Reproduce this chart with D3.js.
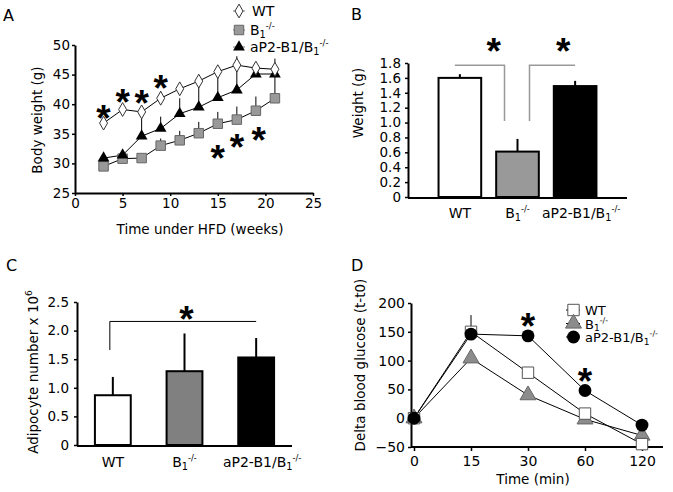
<!DOCTYPE html>
<html>
<head>
<meta charset="utf-8">
<script src="https://cdn.jsdelivr.net/npm/d3@7"></script>
<style>
	body { margin: 0; background: #fff; }
	svg { display: block; }
	text { font-family: "DejaVu Sans", Arial, sans-serif; fill: #000; }
</style>
</head>
<body>
<svg id="chart" width="673" height="492"></svg>
<script>
// ---- panel A: body weight over time
const weeks = [3, 5, 7, 9, 11, 13, 15, 17, 19, 21];
const wtBody = [36.8, 39.1, 38.7, 41.0, 42.6, 43.9, 45.5, 46.6, 46.1, 45.9];
const wtBodyErr = [0.4, 0.5, 0.6, 1.2, 0.9, 0.8, 0.9, 1.5, 0.5, 0.6];
const b1Body = [29.5, 30.8, 30.9, 33.0, 33.9, 35.1, 36.7, 37.4, 38.9, 41.0];
const b1BodyErr = [0.3, 0.4, 0.5, 1.2, 1.6, 1.9, 2.0, 2.2, 2.4, 4.6];
const aP2Body = [30.9, 31.4, 34.6, 35.9, 38.4, 39.5, 41.1, 42.4, 45.1, 45.1];
const aP2BodyErr = [0.3, 0.5, 3.7, 2.0, 2.6, 3.7, 4.1, 4.4, 0.5, 2.6];
const aXTicks = [0, 5, 10, 15, 20, 25];
const aYTicks = [25, 30, 35, 40, 45, 50];
const aStarWeeks = [3, 5, 7, 9, 15, 17, 19.3];
const aStarValues = [38.9, 41.6, 41.5, 44.0, 32.3, 34.0, 35.2];

// ---- panels B and C: bars per genotype
const groups = ['WT', 'B1', 'aP2'];
const groupLabels = [['WT', '', ''], ['B', '1', '-/-'], ['aP2-B1/B', '1', '-/-']];
const fatWeight = [1.60, 0.61, 1.49];
const fatWeightErr = [0.05, 0.17, 0.07];
const bYTicks = [0, 0.2, 0.4, 0.6, 0.8, 1.0, 1.2, 1.4, 1.6, 1.8];
const adipocytes = [0.87, 1.29, 1.53];
const adipocytesErr = [0.32, 0.66, 0.34];
const cYTicks = [0, 0.5, 1.0, 1.5, 2.0, 2.5];

// ---- panel D: glucose tolerance
const times = ['0', '15', '30', '60', '120'];
const wtGlucose = [0, 150, 79, 8, -45];
const wtGlucoseErr = [0, 29, 3, 3, 0];
const b1Glucose = [0, 104, 40, -2, -30];
const b1GlucoseErr = [0, 14, 0, 0, 0];
const aP2Glucose = [0, 146, 143, 48, -12];
const aP2GlucoseErr = [0, 4, 8, 3, 0];
const dYTicks = [-50, 0, 50, 100, 150, 200];
const dStarTimes = ['30', '60'];
const dStarValues = [174, 78];

const svg = d3.select('#chart');
const FONT = 14;
const TICK_FONT = 13.5;
const TITLE_FONT = 13.5;

function styleAxis(g, fs) {
	g.attr('font-family', null).attr('font-size', null);
	g.select('.domain').attr('stroke', '#000').attr('stroke-width', 2);
	g.selectAll('.tick line').attr('stroke', '#000').attr('stroke-width', 1.5);
	g.selectAll('.tick text').style('font-size', fs + 'px');
}

// label with subscript "1" and superscript "-/-"
function richLabel(t, parts, fs) {
	t.append('tspan').text(parts[0]);
	if (parts[1]) {
		t.append('tspan').attr('dy', fs * 0.22).style('font-size', (fs * 0.7) + 'px').text(parts[1]);
		t.append('tspan').attr('dy', -fs * 0.68).style('font-size', (fs * 0.6) + 'px').text(parts[2]);
	}
	return t;
}

function star(g, cx, cy) {
	g.append('text')
		.attr('x', cx).attr('y', cy)
		.attr('dy', '0.56em')
		.attr('text-anchor', 'middle')
		.style('font-family', '"Liberation Sans", Arial, sans-serif')
		.style('font-size', '37px')
		.style('font-weight', 'bold')
		.text('*');
}

function panelLetter(x, y, s) {
	svg.append('text').attr('x', x).attr('y', y).style('font-size', '16px').text(s);
}

function rotatedTitle(g, cx, cy, fs) {
	return g.append('text')
		.attr('transform', 'translate(' + cx + ',' + cy + ') rotate(-90)')
		.attr('text-anchor', 'middle')
		.attr('dy', '0.35em')
		.style('font-size', fs + 'px');
}

function markerStyle(sel, type) {
	if (type === 'diamond') {
		sel.attr('d', d3.symbol(d3.symbolDiamond, 55)()).attr('fill', '#fff').attr('stroke', '#333').attr('stroke-width', 1);
	} else if (type === 'square') {
		sel.attr('d', d3.symbol(d3.symbolSquare, 90)()).attr('fill', '#999').attr('stroke', '#666').attr('stroke-width', 1);
	} else if (type === 'triangle') {
		sel.attr('d', d3.symbol(d3.symbolTriangle, 60)()).attr('fill', '#000');
	}
}

// ================= Panel A =================
(function() {
	const g = svg.append('g');
	const x = d3.scaleLinear().domain([0, 25]).range([75, 313]);
	const y = d3.scaleLinear().domain([25, 50]).range([193, 45]);

	g.append('g').attr('transform', 'translate(0,193)')
		.call(d3.axisBottom(x).tickValues(aXTicks).tickSize(3).tickSizeOuter(0).tickPadding(2))
		.call(styleAxis, TICK_FONT);
	g.append('g').attr('transform', 'translate(75,0)')
		.call(d3.axisLeft(y).tickValues(aYTicks).tickSize(3).tickSizeOuter(0).tickPadding(2))
		.call(styleAxis, TICK_FONT);

	const series = [
		{ vals: b1Body, err: b1BodyErr, type: 'square' },
		{ vals: aP2Body, err: aP2BodyErr, type: 'triangle' },
		{ vals: wtBody, err: wtBodyErr, type: 'diamond' }
	];
	const line = d3.line().x(function(d) { return x(d[0]); }).y(function(d) { return y(d[1]); });

	series.forEach(function(s) {
		const pts = weeks.map(function(w, i) { return [w, s.vals[i], s.err[i]]; });
		g.append('g').selectAll('line').data(pts).enter().append('line')
			.attr('x1', function(d) { return x(d[0]); })
			.attr('x2', function(d) { return x(d[0]); })
			.attr('y1', function(d) { return y(d[1]); })
			.attr('y2', function(d) { return y(d[1] + d[2]); })
			.attr('stroke', '#000').attr('stroke-width', 1);
		g.append('path').datum(pts).attr('d', line)
			.attr('fill', 'none').attr('stroke', '#000').attr('stroke-width', 1);
	});
	series.forEach(function(s) {
		const pts = weeks.map(function(w, i) { return [w, s.vals[i]]; });
		const sel = g.append('g').selectAll('path').data(pts).enter().append('path')
			.attr('transform', function(d) { return 'translate(' + x(d[0]) + ',' + y(d[1]) + ')'; });
		markerStyle(sel, s.type);
	});

	aStarWeeks.forEach(function(w, i) { star(g, x(w), y(aStarValues[i])); });

	// legend
	const leg = [
		{ type: 'diamond', label: ['WT', '', ''], cy: 11, tx: 252 },
		{ type: 'square', label: ['B', '1', '-/-'], cy: 30, tx: 250 },
		{ type: 'triangle', label: ['aP2-B1/B', '1', '-/-'], cy: 47, tx: 250 }
	];
	leg.forEach(function(l) {
		g.append('line').attr('x1', 233).attr('x2', 245).attr('y1', l.cy).attr('y2', l.cy)
			.attr('stroke', '#777').attr('stroke-width', 1);
		markerStyle(g.append('path').attr('transform', 'translate(239,' + l.cy + ')'), l.type);
		richLabel(g.append('text').attr('x', l.tx).attr('y', l.cy + 5).style('font-size', FONT + 'px'), l.label, FONT);
	});

	rotatedTitle(g, 37, 120, TITLE_FONT).text('Body weight (g)');
	g.append('text').attr('x', 200).attr('y', 234).attr('text-anchor', 'middle')
		.style('font-size', TITLE_FONT + 'px').text('Time under HFD (weeks)');
	panelLetter(3, 21, 'A');
})();

// ================= bar panels =================
function barPanel(opts) {
	const g = svg.append('g');
	const x = d3.scaleBand().domain(groups).range(opts.xRange)
		.paddingInner(opts.padIn).paddingOuter(opts.padOut);
	const y = d3.scaleLinear().domain(opts.yDomain).range(opts.yRange);

	g.append('g').attr('transform', 'translate(' + opts.xRange[0] + ',0)')
		.call(d3.axisLeft(y).tickValues(opts.ticks).tickSize(3).tickSizeOuter(0).tickPadding(opts.tickPad)
			.tickFormat(function(d) { return d === 0 ? '0' : d.toFixed(1); }))
		.call(styleAxis, TICK_FONT);
	g.append('line').attr('x1', opts.xRange[0]).attr('x2', opts.xRange[1])
		.attr('y1', y(0) + 1).attr('y2', y(0) + 1).attr('stroke', '#000').attr('stroke-width', 2);

	// error bars
	g.selectAll('line.err').data(groups).enter().append('line').attr('class', 'err')
		.attr('x1', function(d) { return x(d) + x.bandwidth() / 2; })
		.attr('x2', function(d) { return x(d) + x.bandwidth() / 2; })
		.attr('y1', function(d, i) { return y(opts.vals[i]); })
		.attr('y2', function(d, i) { return y(opts.vals[i] + opts.errs[i]); })
		.attr('stroke', '#000').attr('stroke-width', 2);

	g.selectAll('rect').data(groups).enter().append('rect')
		.attr('x', function(d) { return x(d); })
		.attr('width', x.bandwidth())
		.attr('y', function(d, i) { return y(opts.vals[i]); })
		.attr('height', function(d, i) { return y(0) - y(opts.vals[i]); })
		.attr('fill', function(d, i) { return opts.fills[i]; })
		.attr('stroke', '#000').attr('stroke-width', 2);

	groups.forEach(function(gr, i) {
		richLabel(g.append('text')
			.attr('x', x(gr) + x.bandwidth() / 2 + (i === 2 ? 6 : 0))
			.attr('y', opts.labelY).attr('text-anchor', 'middle')
			.style('font-size', FONT + 'px'), groupLabels[i], FONT);
	});
	return { g: g, x: x, y: y };
}

// ================= Panel B =================
(function() {
	const p = barPanel({
		xRange: [408, 627], padIn: 0.26, padOut: 0.53,
		yDomain: [0, 1.8], yRange: [197, 63], ticks: bYTicks, tickPad: 4,
		vals: fatWeight, errs: fatWeightErr, fills: ['#fff', '#999', '#000'], labelY: 218
	});
	const x = p.x, y = p.y, g = p.g;
	const c = function(k) { return x(k) + x.bandwidth() / 2; };
	g.append('path')
		.attr('d', 'M' + (c('WT') - 5) + ',' + y(1.77) + 'H' + (c('B1') - 13) + 'V' + y(1.02))
		.attr('fill', 'none').attr('stroke', '#999').attr('stroke-width', 1.5);
	g.append('path')
		.attr('d', 'M' + (c('B1') + 12) + ',' + y(1.02) + 'V' + y(1.77) + 'H' + c('aP2'))
		.attr('fill', 'none').attr('stroke', '#999').attr('stroke-width', 1.5);
	star(g, (c('WT') + c('B1')) / 2 + 5, y(2.07));
	star(g, (c('B1') + c('aP2')) / 2 + 17, y(2.07));
	rotatedTitle(g, 358, 103, TITLE_FONT).text('Weight (g)');
	panelLetter(351, 20, 'B');
})();

// ================= Panel C =================
(function() {
	const p = barPanel({
		xRange: [77, 292], padIn: 0.5, padOut: 0.25,
		yDomain: [0, 2.5], yRange: [445, 302], ticks: cYTicks, tickPad: 5,
		vals: adipocytes, errs: adipocytesErr, fills: ['#fff', '#808080', '#000'], labelY: 467
	});
	const x = p.x, y = p.y, g = p.g;
	const c = function(k) { return x(k) + x.bandwidth() / 2; };
	g.append('path')
		.attr('d', 'M' + (c('WT') - 3) + ',' + y(1.66) + 'V' + y(2.16) + 'H' + c('aP2'))
		.attr('fill', 'none').attr('stroke', '#000').attr('stroke-width', 1);
	star(g, c('B1') + 2, y(2.33));
	const t = rotatedTitle(g, 33, 372, TITLE_FONT);
	t.append('tspan').text('Adipocyte number x 10');
	t.append('tspan').attr('dy', -6).style('font-size', '9px').text('6');
	panelLetter(6, 271, 'C');
})();

// ================= Panel D =================
(function() {
	const g = svg.append('g');
	const x = d3.scalePoint().domain(times).range([414, 642]);
	const y = d3.scaleLinear().domain([-50, 200]).range([447, 303]);

	g.append('g').attr('transform', 'translate(411,0)')
		.call(d3.axisLeft(y).tickValues(dYTicks).tickSize(3).tickSizeOuter(0).tickPadding(3))
		.call(styleAxis, 14);
	const xa = g.append('g').attr('transform', 'translate(0,447)')
		.call(d3.axisBottom(x).tickSize(4).tickSizeOuter(0).tickPadding(5))
		.call(styleAxis, 14);
	xa.select('.domain').attr('d', 'M411,0H663');

	const series = [
		{ vals: b1Glucose, err: b1GlucoseErr, type: 'tri' },
		{ vals: wtGlucose, err: wtGlucoseErr, type: 'sq' },
		{ vals: aP2Glucose, err: aP2GlucoseErr, type: 'dot' }
	];
	const line = d3.line().x(function(d) { return x(d[0]); }).y(function(d) { return y(d[1]); });
	series.forEach(function(s) {
		const pts = times.map(function(t, i) { return [t, s.vals[i], s.err[i]]; });
		g.append('g').selectAll('line').data(pts).enter().append('line')
			.attr('x1', function(d) { return x(d[0]); })
			.attr('x2', function(d) { return x(d[0]); })
			.attr('y1', function(d) { return y(d[1]); })
			.attr('y2', function(d) { return y(d[1] + d[2]); })
			.attr('stroke', '#000').attr('stroke-width', 1);
		g.append('path').datum(pts).attr('d', line)
			.attr('fill', 'none').attr('stroke', '#000').attr('stroke-width', 1);
	});
	series.forEach(function(s) {
		const pts = times.map(function(t, i) { return [t, s.vals[i]]; });
		const sel = g.append('g').selectAll('path').data(pts).enter().append('path')
			.attr('transform', function(d) { return 'translate(' + x(d[0]) + ',' + y(d[1]) + ')'; });
		dMarker(sel, s.type);
	});

	dStarTimes.forEach(function(t, i) { star(g, x(t), y(dStarValues[i])); });

	const leg = [
		{ type: 'sq', label: ['WT', '', ''], cy: 310, tx: 585 },
		{ type: 'tri', label: ['B', '1', '-/-'], cy: 323.5, tx: 585 },
		{ type: 'dot', label: ['aP2-B1/B', '1', '-/-'], cy: 337, tx: 585 }
	];
	leg.forEach(function(l) {
		g.append('line').attr('x1', 566).attr('x2', 580).attr('y1', l.cy).attr('y2', l.cy)
			.attr('stroke', '#000').attr('stroke-width', 1);
		dMarker(g.append('path').attr('transform', 'translate(573.5,' + l.cy + ')'), l.type);
		richLabel(g.append('text').attr('x', l.tx).attr('y', l.cy + 5).style('font-size', '13px'), l.label, 13);
	});

	function dMarker(sel, type) {
		if (type === 'sq') {
			sel.attr('d', d3.symbol(d3.symbolSquare, 130)()).attr('fill', '#fff').attr('stroke', '#555').attr('stroke-width', 1);
		} else if (type === 'tri') {
			sel.attr('d', d3.symbol(d3.symbolTriangle, 110)()).attr('fill', '#8c8c8c').attr('stroke', '#666').attr('stroke-width', 1);
		} else {
			sel.attr('d', d3.symbol(d3.symbolCircle, 130)()).attr('fill', '#000');
		}
	}

	rotatedTitle(g, 360, 365, TITLE_FONT).text('Delta blood glucose (t-t0)');
	g.append('text').attr('x', 533).attr('y', 484).attr('text-anchor', 'middle')
		.style('font-size', TITLE_FONT + 'px').text('Time (min)');
	panelLetter(351, 271, 'D');
})();
</script>
</body>
</html>
